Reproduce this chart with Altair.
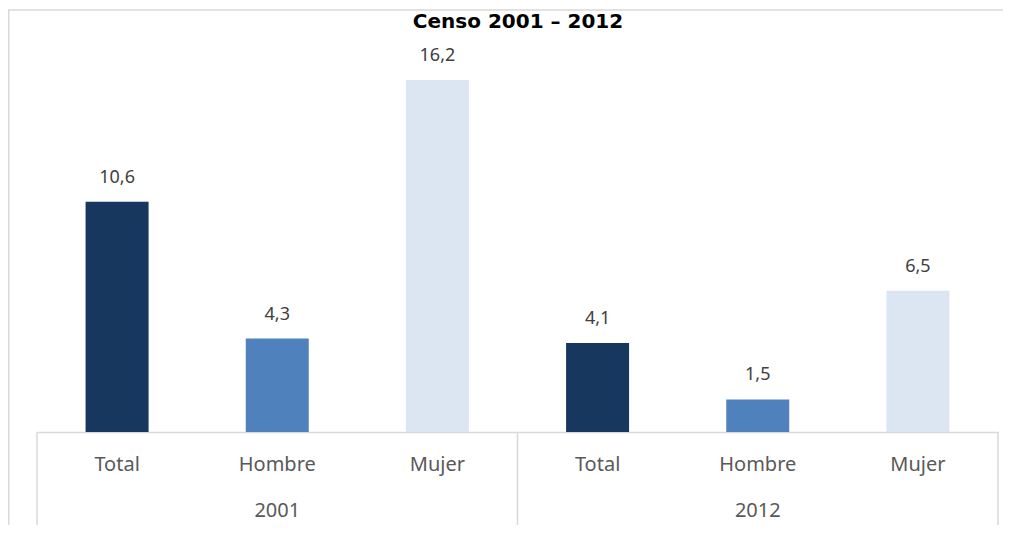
import altair as alt
import pandas as pd

# ---- data ----
years = ["2001", "2001", "2001", "2012", "2012", "2012"]
categories = ["Total", "Hombre", "Mujer", "Total", "Hombre", "Mujer"]
values = [10.6, 4.3, 16.2, 4.1, 1.5, 6.5]
value_labels = ["10,6", "4,3", "16,2", "4,1", "1,5", "6,5"]
group_years = ["2001", "2012"]
category_order = ["Total", "Hombre", "Mujer"]
category_colors = ["#17375E", "#4F81BD", "#DCE6F2"]
title_text = "Censo 2001 – 2012"

keys = [f"{y}|{c}" for y, c in zip(years, categories)]
df = pd.DataFrame({"key": keys, "year": years, "cat": categories,
                   "value": values, "label": value_labels})

FONT = "Noto Sans"
GRID = "#D9D9D9"

x_scale = alt.Scale(domain=keys, paddingInner=0, paddingOuter=0)
x_enc = alt.X(
    "key:N", scale=x_scale,
    axis=alt.Axis(title=None, labelExpr="split(datum.value, '|')[1]",
                  ticks=False, tickSize=0, labelPadding=38,
                  labelAlign="center", labelBaseline="alphabetic", labelFontSize=20,
                  labelColor="#595959", labelFont=FONT, labelBound=False,
                  domainColor=GRID, domainWidth=1.5, labelAngle=0, grid=False))
y_enc = alt.Y("value:Q", scale=alt.Scale(domain=[0, 19.51], nice=False), axis=None)

bars = alt.Chart(df).mark_bar(width=63).encode(
    x=x_enc, y=y_enc,
    color=alt.Color("cat:N", scale=alt.Scale(domain=category_order, range=category_colors),
                    legend=None))

labels = alt.Chart(df).mark_text(dy=-19, baseline="alphabetic", fontSize=18,
                                 color="#404040", font=FONT).encode(
    x=alt.X("key:N", scale=x_scale), y="value:Q", text="label:N")

sep_left = alt.Chart(pd.DataFrame({"key": [f"{y}|Total" for y in group_years]})).mark_rule(
    color=GRID, strokeWidth=1.5).encode(
    x=alt.X("key:N", bandPosition=0, scale=x_scale), y=alt.value(424), y2=alt.value(517))
sep_right = alt.Chart(pd.DataFrame({"key": [keys[-1]]})).mark_rule(
    color=GRID, strokeWidth=1.5).encode(
    x=alt.X("key:N", bandPosition=1, scale=x_scale), y=alt.value(424), y2=alt.value(517))

year_labels = alt.Chart(pd.DataFrame({"key": [f"{y}|Hombre" for y in group_years],
                                      "year": group_years})).mark_text(
    fontSize=20, color="#595959", baseline="alphabetic", font=FONT).encode(
    x=alt.X("key:N", scale=x_scale), y=alt.value(509), text="year:N")

one = pd.DataFrame({"t": [title_text]})
frame_left = alt.Chart(one).mark_rule(color=GRID, strokeWidth=1.5).encode(
    x=alt.value(-28.3), y=alt.value(2), y2=alt.value(520))
frame_top = alt.Chart(one).mark_rule(color=GRID, strokeWidth=1.5).encode(
    x=alt.value(-29), x2=alt.value(970), y=alt.value(2))
title = alt.Chart(one).mark_text(font="DejaVu Sans", fontWeight="bold", fontSize=20,
                                 baseline="alphabetic", color="black").encode(
    x=alt.value(481), y=alt.value(20), text="t:N")

chart = alt.layer(frame_left, frame_top, title, sep_left, sep_right, bars, labels,
                  year_labels).properties(
    width=961, height=424,
    padding={"left": 29, "top": 0, "right": 5, "bottom": 93},
    autosize=alt.AutoSizeParams(type="none"),
).configure_view(stroke=None)

chart.save("out.html", embed_options={"renderer": "svg", "actions": False})
